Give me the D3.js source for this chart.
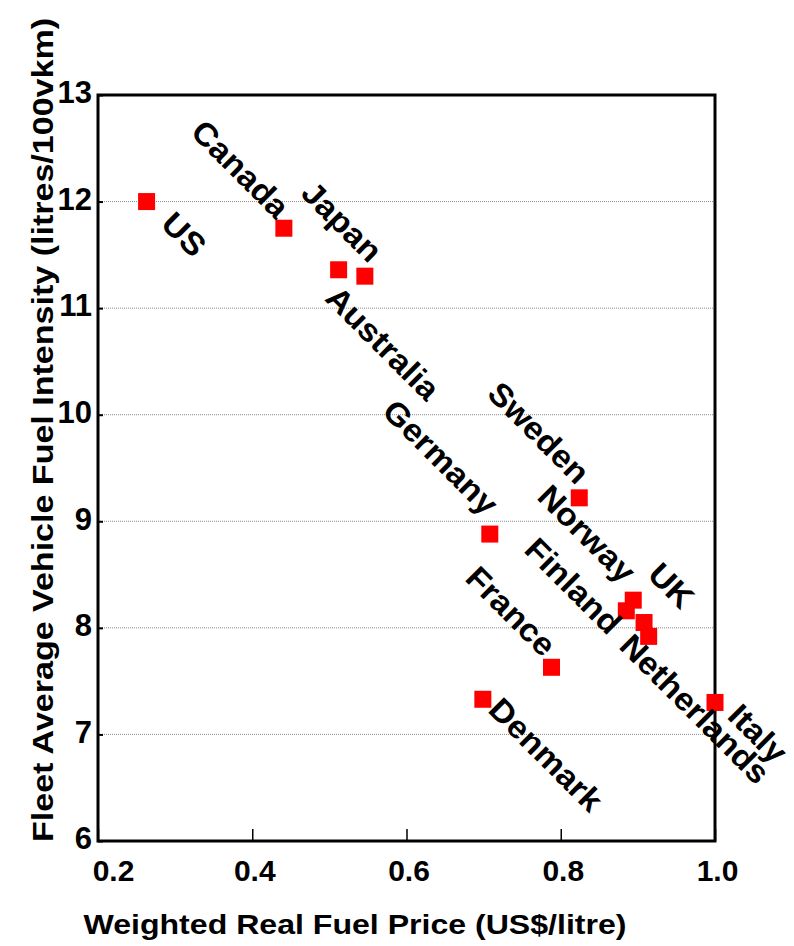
<!DOCTYPE html>
<html>
<head>
<meta charset="utf-8">
<script src="https://cdn.jsdelivr.net/npm/d3@7"></script>
<style>
  body { margin: 0; background: #fff; }
  svg text { font-family: "Liberation Sans", Arial, sans-serif; font-weight: bold; fill: #000; }
</style>
</head>
<body>
<svg id="chart" width="794" height="946"></svg>
<script>
// data
var countries     = ["US", "Canada", "Australia", "Japan", "Germany", "Sweden", "UK", "Norway", "Finland", "Netherlands", "France", "Denmark", "Italy"];
var fuelPrice     = [0.263, 0.441, 0.512, 0.546, 0.708, 0.824, 0.894, 0.885, 0.908, 0.914, 0.788, 0.699, 1.0];
var fuelIntensity = [12.0, 11.75, 11.36, 11.30, 8.88, 9.22, 8.26, 8.16, 8.05, 7.92, 7.63, 7.33, 7.30];

var xTicks = [0.2, 0.4, 0.6, 0.8, 1.0];
var yTicks = [6, 7, 8, 9, 10, 11, 12, 13];
var yGrid  = [7, 8, 9, 10, 11, 12];

// label placement (anchor + offset from the marker, in px)
var labelAnchor = ["start", "end", "start", "end", "end", "end", "start", "end", "end", "start", "end", "start", "start"];
var labelDx     = [13, -8, -15, 4, -5, -3, 13, -4, -36, -31, -9, 4, 11];
var labelDy     = [24, -8, 30, -12, -17, -12, -24, -26, 14, 11, -9, 12, 15];

var svg = d3.select("#chart"),
    margin = {top: 95, right: 79, bottom: 105, left: 98},
    width = +svg.attr("width") - margin.left - margin.right,
    height = +svg.attr("height") - margin.top - margin.bottom;

var x = d3.scaleLinear().domain([0.2, 1.0]).range([0, width]);
var y = d3.scaleLinear().domain([6, 13]).range([height, 0]);

var g = svg.append("g")
    .attr("transform", "translate(" + margin.left + "," + margin.top + ")");

// dotted grid
g.selectAll(".grid").data(yGrid).join("line")
    .attr("class", "grid")
    .attr("x1", 0).attr("x2", width)
    .attr("y1", d => y(d)).attr("y2", d => y(d))
    .attr("stroke", "#8a8a8a")
    .attr("stroke-width", 1)
    .attr("stroke-dasharray", "1,1");

// axes
var xAxis = g.append("g")
    .attr("transform", "translate(0," + height + ")")
    .call(d3.axisBottom(x).tickValues(xTicks).tickSize(-12).tickPadding(19).tickFormat(d3.format(".1f")));
xAxis.select(".domain").remove();
xAxis.selectAll("line").attr("stroke-width", 1.5);
xAxis.selectAll("text")
    .style("font-size", "30px")
    .attr("dx", (d, i) => i == 0 ? 15 : 2);

var yAxis = g.append("g")
    .call(d3.axisLeft(y).tickValues(yTicks).tickSize(-5).tickPadding(6).tickFormat(d3.format("d")));
yAxis.select(".domain").remove();
yAxis.selectAll("line").attr("stroke-width", 2);
yAxis.selectAll("text")
    .style("font-size", "31px")
    .attr("dy", "0.25em");

// frame
g.append("rect")
    .attr("width", width).attr("height", height)
    .attr("fill", "none")
    .attr("stroke", "#000")
    .attr("stroke-width", 3);

// markers
var pts = countries.map((c, i) => ({name: c, px: fuelPrice[i], fi: fuelIntensity[i], i: i}));

g.selectAll(".pt").data(pts).join("rect")
    .attr("class", "pt")
    .attr("x", d => x(d.px) - 8.5)
    .attr("y", d => y(d.fi) - 8.5)
    .attr("width", 17).attr("height", 17)
    .attr("fill", "#ff0000");

// labels, rotated 45deg
g.selectAll(".lbl").data(pts).join("text")
    .attr("class", "lbl")
    .attr("text-anchor", d => labelAnchor[d.i])
    .attr("transform", d => "translate(" + (x(d.px) + labelDx[d.i]) + "," + (y(d.fi) + labelDy[d.i]) + ") rotate(45) scale(1.06,1)")
    .style("font-size", "32px")
    .text(d => d.name);

// titles
svg.append("text")
    .attr("x", 355).attr("y", 934)
    .attr("text-anchor", "middle")
    .attr("textLength", 543)
    .attr("lengthAdjust", "spacingAndGlyphs")
    .style("font-size", "28px")
    .text("Weighted Real Fuel Price (US$/litre)");

svg.append("text")
    .attr("transform", "translate(53,430) rotate(-90)")
    .attr("text-anchor", "middle")
    .attr("textLength", 824)
    .attr("lengthAdjust", "spacingAndGlyphs")
    .style("font-size", "29px")
    .text("Fleet Average Vehicle Fuel Intensity (litres/100vkm)");
</script>
</body>
</html>
